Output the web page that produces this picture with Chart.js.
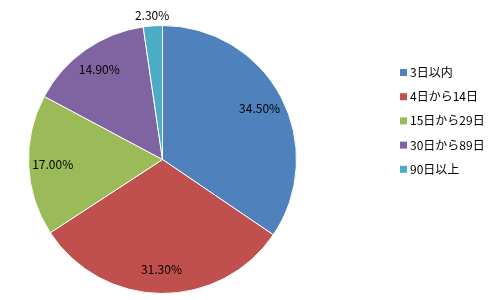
<!DOCTYPE html>
<html>
<head>
    <title>Pie</title>
    <script src="https://cdn.jsdelivr.net/npm/chart.js"></script>
    <style>
        body { margin: 0; background: #fff; }
        #wrap { width: 500px; height: 300px; }
    </style>
</head>
<body>
    <div id="wrap"><canvas id="pieChart" width="500" height="300"></canvas></div>
    <script>
        const categories = ['3日以内', '4日から14日', '15日から29日', '30日から89日', '90日以上'];
        const shares = [34.5, 31.3, 17.0, 14.9, 2.3];
        const colors = ['#4F81BD', '#C0504D', '#9BBB59', '#8064A2', '#4BACC6'];

        const FONT = '"Noto Sans CJK JP", "Noto Sans", sans-serif';

        // percentage labels on the slices (small ones go outside)
        const sliceLabels = {
            id: 'sliceLabels',
            afterDatasetsDraw(chart) {
                const ctx = chart.ctx;
                const meta = chart.getDatasetMeta(0);
                ctx.save();
                ctx.font = '12px ' + FONT;
                ctx.fillStyle = '#000';
                ctx.textAlign = 'center';
                ctx.textBaseline = 'middle';
                meta.data.forEach((arc, i) => {
                    const mid = (arc.startAngle + arc.endAngle) / 2;
                    const r = shares[i] < 5 ? arc.outerRadius + 10 : arc.outerRadius * 0.82;
                    const x = arc.x + Math.cos(mid) * r;
                    const y = arc.y + Math.sin(mid) * r;
                    ctx.fillText(shares[i].toFixed(2) + '%', x, y);
                });
                ctx.restore();
            }
        };

        // legend on the right
        const sideLegend = {
            id: 'sideLegend',
            afterDraw(chart) {
                const ctx = chart.ctx;
                ctx.save();
                ctx.font = '12px ' + FONT;
                ctx.textAlign = 'left';
                ctx.textBaseline = 'middle';
                categories.forEach((name, i) => {
                    const y = 72.5 + i * 24.2;
                    ctx.fillStyle = colors[i];
                    ctx.fillRect(400, y - 3.5, 7, 7);
                    ctx.fillStyle = '#000';
                    ctx.fillText(name, 410, y);
                });
                ctx.restore();
            }
        };

        new Chart(document.getElementById('pieChart').getContext('2d'), {
            type: 'pie',
            data: {
                labels: categories,
                datasets: [{
                    data: shares,
                    backgroundColor: colors,
                    borderColor: '#fff',
                    borderWidth: 1
                }]
            },
            options: {
                responsive: false,
                animation: false,
                layout: { padding: { left: 28, top: 25, right: 203, bottom: 6 } },
                plugins: {
                    legend: { display: false },
                    tooltip: { enabled: false }
                }
            },
            plugins: [sliceLabels, sideLegend]
        });
    </script>
</body>
</html>
